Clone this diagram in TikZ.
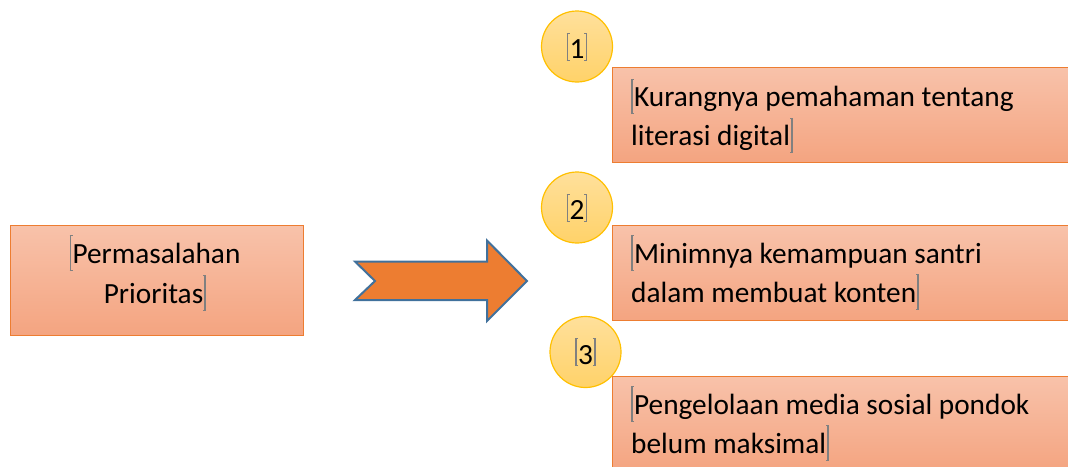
\documentclass[tikz,border=0pt]{standalone}
\usepackage{fontspec}
\setmainfont{Carlito}
\usetikzlibrary{positioning}

\definecolor{boxtop}{RGB}{248,194,170}
\definecolor{boxbot}{RGB}{244,164,128}
\definecolor{boxline}{RGB}{237,125,49}
\definecolor{badgetop}{RGB}{255,224,155}
\definecolor{badgebot}{RGB}{255,210,105}
\definecolor{badgeline}{RGB}{255,192,0}
\definecolor{arrowfill}{RGB}{237,125,49}
\definecolor{arrowline}{RGB}{65,113,156}
\definecolor{markgray}{RGB}{128,128,128}

% #1 depth, #2 total height (em)
\newcommand{\opnmark}[2]{{\color{markgray}\rlap{\rule[-#1em]{0.06em}{#2em}}\rlap{\rule[\dimexpr#2em-#1em-0.03em\relax]{0.1em}{0.03em}}\rule[-#1em]{0.1em}{0.03em}}}
\newcommand{\clsmark}[2]{{\color{markgray}\rlap{\rule[-#1em]{0.1em}{0.03em}}\rlap{\rule[\dimexpr#2em-#1em-0.03em\relax]{0.1em}{0.03em}}\hspace{0.04em}\rule[-#1em]{0.06em}{#2em}}}

\begin{document}
\begin{tikzpicture}[x=1pt, y=-1pt,
    box/.style={draw=boxline, line width=1.2pt, top color=boxtop, bottom color=boxbot, anchor=north west, inner sep=0pt},
    badge/.style={circle, draw=badgeline, line width=1.2pt, top color=badgetop, bottom color=badgebot, minimum size=71pt, inner sep=0pt, font=\fontsize{29.3}{32}\selectfont},
    txt/.style={anchor=base west, inner sep=0pt, text width=430pt, align=flush left, font=\fontsize{29.3}{39}\selectfont}]
        \useasboundingbox (0,0) rectangle (1068,466);

        % Blocks
        \node[box, minimum width=293pt, minimum height=110pt] (prob) at (10,225) {};
        \node[txt, anchor=base, text width=292pt, align=flush center, font=\fontsize{29.3}{40}\selectfont] (probtxt) at (155,263.3) {\opnmark{0.25}{1.2}Permasalahan\\Prioritas\clsmark{0.25}{1.2}};
        \node[box, minimum width=460pt, minimum height=95pt] (b1) at (612,67) {};
        \node[box, minimum width=460pt, minimum height=95pt] (b2) at (612,225) {};
        \node[box, minimum width=460pt, minimum height=95pt] (b3) at (612,376) {};

        % Texts
        \node[txt] (t1) at (631,106.7) {\opnmark{0.25}{1.2}Kurangnya pemahaman tentang\\literasi digital\clsmark{0.25}{1.2}};
        \node[txt] (t2) at (631,263.3) {\opnmark{0.25}{1.2}Minimnya kemampuan santri\\dalam membuat konten\clsmark{0.25}{1.2}};
        \node[txt] (t3) at (631,414.3) {\opnmark{0.25}{1.2}Pengelolaan media sosial pondok\\belum maksimal\clsmark{0.25}{1.2}};

        % Arrow
        \draw[line width=2pt, draw=arrowline, fill=arrowfill, line join=miter] (355,261.5) -- (487,261.5) -- (487,240.5) -- (527,281) -- (487,321) -- (487,300) -- (355,300) -- (375,281) -- cycle;

        % Badges
        \node[badge] (n1) at (577,46.5) {\opnmark{0.05}{0.95}1\clsmark{0.05}{0.95}};
        \node[badge] (n2) at (577,207.5) {\opnmark{0.05}{0.95}2\clsmark{0.05}{0.95}};
        \node[badge] (n3) at (585.5,352) {\opnmark{0.05}{0.95}3\clsmark{0.05}{0.95}};
    \end{tikzpicture}
\end{document}
